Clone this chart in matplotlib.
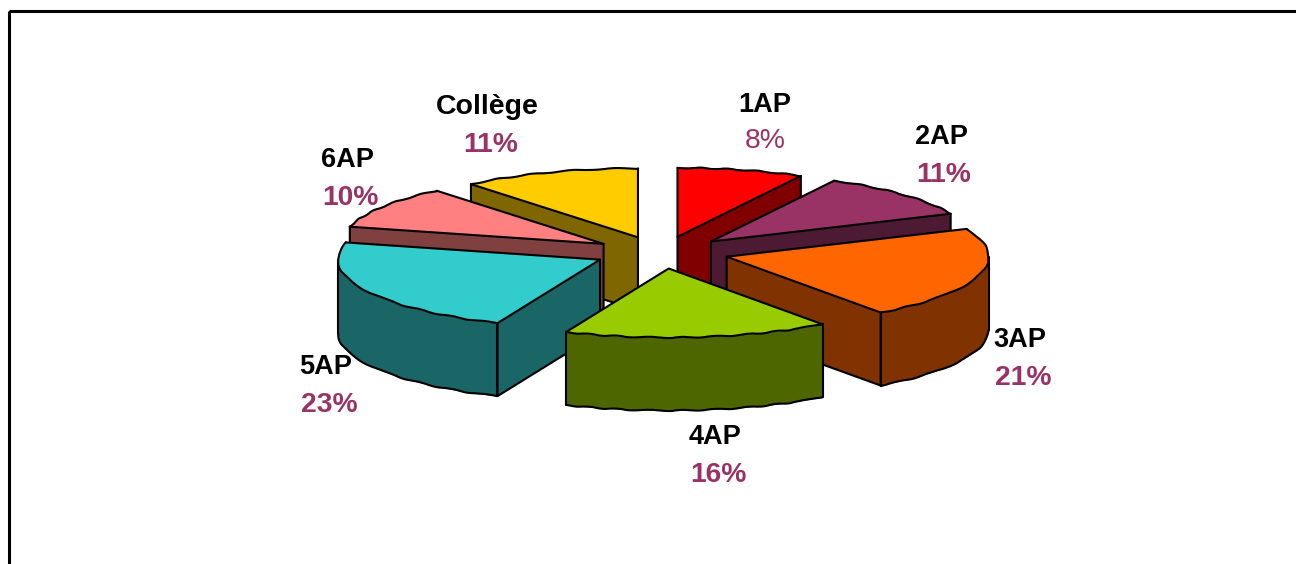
import numpy as np
import matplotlib
matplotlib.use("Agg")
import matplotlib.pyplot as plt
from matplotlib.patches import Polygon, Rectangle
from matplotlib.lines import Line2D

categories = ["1AP", "2AP", "3AP", "4AP", "5AP", "6AP", "Collège"]
shares = [7.8, 10.6, 21.6, 16.4, 22.6, 10.0, 11.0]
percent_labels = [8, 11, 21, 16, 23, 10, 11]
top_colors = ["#FF0000", "#993366", "#FF6600", "#99CC00", "#33CCCC", "#FF8080", "#FFCC00"]
side_colors = ["#800000", "#4D1A33", "#803300", "#4D6600", "#1A6666", "#804040", "#806600"]
draw_order = ["Collège", "1AP", "2AP", "6AP", "3AP", "5AP", "4AP"]

CX, CY = 661.0, 252.5
RX, RY = 262.0, 69.0
EXPLODE = 68.0
DEPTH = 73.0
LW = 1.5

plt.rcParams["font.family"] = ["Liberation Sans", "DejaVu Sans"]
fig = plt.figure(figsize=(12.96, 5.64), dpi=100)
ax = fig.add_axes([0, 0, 1, 1])
ax.set_xlim(0, 1296)
ax.set_ylim(564, 0)
ax.axis("off")

# frame running off the right and bottom edges
ax.add_patch(Rectangle((9, 11), 1400, 700, fill=False, ec="black", lw=2.2, zorder=0))

layer = [1]


def fill(pts, fc):
    # thin same-colour edge closes antialiasing gaps under the outlines
    layer[0] += 1
    ax.add_patch(Polygon(pts, closed=True, fc=fc, ec=fc, lw=0.5, zorder=layer[0]))


def stroke(pts, wobble=False):
    layer[0] += 1
    pts = np.asarray(pts)
    ln = Line2D(pts[:, 0], pts[:, 1], color="black", lw=LW, solid_capstyle="round",
                solid_joinstyle="round", zorder=layer[0])
    if wobble:
        ln.set_sketch_params(scale=0.55, length=30, randomness=2)
    ax.add_line(ln)


edges = np.cumsum([0] + shares) / sum(shares) * 2 * np.pi
slices = {}
for name, a0, a1, top, side in zip(categories, edges[:-1], edges[1:], top_colors, side_colors):
    slices[name] = (a0, a1, top, side)

for name in draw_order:
    a0, a1, top, side = slices[name]
    mid = (a0 + a1) / 2
    tx = CX + EXPLODE * np.sin(mid)
    ty = CY - EXPLODE * np.cos(mid) * RY / RX * 0.9
    th = np.linspace(a0, a1, 120)
    arc = np.column_stack([tx + RX * np.sin(th), ty - RY * np.cos(th)])
    tip = np.array([tx, ty])
    down = np.array([0, DEPTH])

    # radial walls that face the viewer
    for ang, visible in ((a0, np.sin(a0) < -1e-6), (a1, np.sin(a1) > 1e-6)):
        if visible:
            p = np.array([tx + RX * np.sin(ang), ty - RY * np.cos(ang)])
            fill([tip, p, p + down, tip + down], side)
            stroke([p, p + down, tip + down, tip])

    # outer curved wall, front half only
    vis = np.cos(th) <= 0
    if vis.any():
        front = arc[vis]
        fill(np.vstack([front, front[::-1] + down]), side)
        stroke(front + down, wobble=True)
        stroke([front[0], front[0] + down])
        stroke([front[-1], front[-1] + down])

    fill(np.vstack([tip, arc]), top)
    stroke(arc, wobble=True)
    stroke([arc[0], tip, arc[-1]])

label_pos = {
    "1AP": (765, 104, 139),
    "2AP": (941, 136, 173),
    "3AP": (1020, 339, 376),
    "4AP": (715, 436, 473),
    "5AP": (326, 366, 403),
    "6AP": (347, 159, 196),
    "Collège": (487, 106, 143),
}
pct_dx = {"1AP": 0, "2AP": 3, "3AP": 3, "4AP": 3, "5AP": 3, "6AP": 3, "Collège": 4}
for name, pct in zip(categories, percent_labels):
    x, y1, y2 = label_pos[name]
    ax.text(x, y1 + 1, name, ha="center", va="center", fontsize=20.5 if name == "Collège" else 19.5,
            fontweight="bold", color="black", zorder=500)
    ax.text(x + pct_dx[name], y2 + 2, f"{pct}%", ha="center", va="center", fontsize=20.3,
            fontweight="normal" if name == "1AP" else "bold", color="#993366", zorder=500)

fig.savefig("out.png", dpi=100)
